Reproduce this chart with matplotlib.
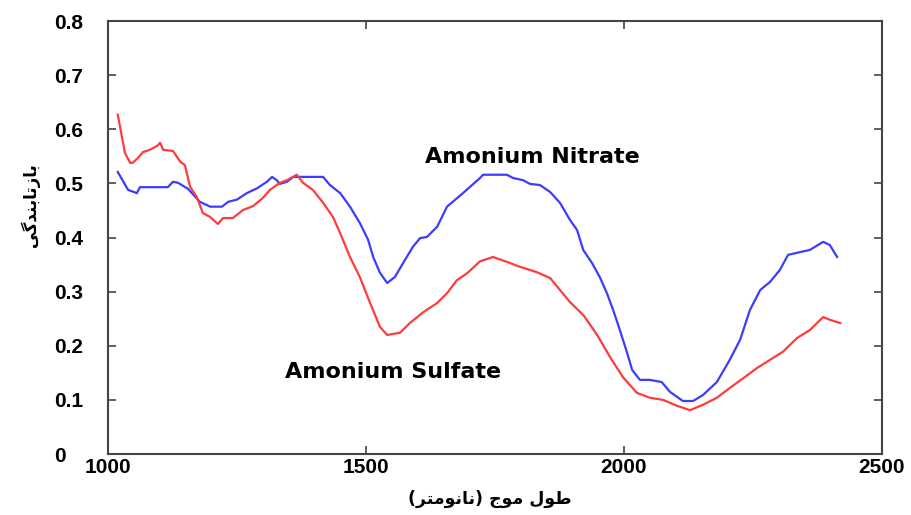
import matplotlib
matplotlib.use("Agg")
import matplotlib.pyplot as plt

# Data (wavelength in nm, reflectance)
nitrate_x = [1019, 1039, 1056, 1062, 1116, 1126, 1136, 1155, 1178, 1198, 1221, 1233, 1250,
             1269, 1289, 1308, 1318, 1327, 1333, 1347, 1359, 1372, 1417, 1430, 1450, 1469,
             1488, 1504, 1514, 1527, 1541, 1556, 1572, 1591, 1605, 1618, 1638, 1657, 1688,
             1721, 1727, 1773, 1785, 1804, 1818, 1837, 1857, 1876, 1895, 1909, 1921, 1938,
             1953, 1967, 1979, 1992, 2006, 2016, 2031, 2050, 2073, 2089, 2114, 2134, 2153,
             2180, 2205, 2225, 2244, 2264, 2283, 2302, 2318, 2341, 2360, 2386, 2399, 2413]
nitrate_y = [0.521, 0.488, 0.482, 0.493, 0.493, 0.503, 0.501, 0.490, 0.466, 0.457, 0.457, 0.466, 0.470,
             0.482, 0.491, 0.503, 0.512, 0.506, 0.499, 0.503, 0.512, 0.512, 0.512, 0.497, 0.482, 0.457,
             0.427, 0.396, 0.364, 0.335, 0.316, 0.327, 0.353, 0.383, 0.399, 0.401, 0.420, 0.457, 0.482,
             0.510, 0.516, 0.516, 0.510, 0.506, 0.499, 0.497, 0.484, 0.464, 0.433, 0.414, 0.377, 0.353,
             0.327, 0.297, 0.266, 0.229, 0.187, 0.155, 0.137, 0.137, 0.133, 0.115, 0.098, 0.098, 0.109,
             0.133, 0.174, 0.211, 0.266, 0.303, 0.318, 0.340, 0.368, 0.373, 0.377, 0.392, 0.386, 0.364]

sulfate_x = [1019, 1027, 1033, 1043, 1048, 1058, 1068, 1081, 1095, 1101, 1107, 1126, 1140,
             1149, 1159, 1172, 1184, 1198, 1213, 1223, 1242, 1262, 1281, 1300, 1314, 1333,
             1347, 1366, 1378, 1397, 1417, 1436, 1450, 1469, 1488, 1508, 1527, 1541, 1566,
             1585, 1611, 1638, 1657, 1676, 1696, 1721, 1746, 1773, 1798, 1831, 1857, 1876,
             1895, 1921, 1948, 1973, 1998, 2025, 2050, 2076, 2103, 2128, 2153, 2180, 2205,
             2231, 2258, 2283, 2308, 2335, 2360, 2386, 2399, 2419]
sulfate_y = [0.627, 0.586, 0.556, 0.538, 0.538, 0.547, 0.558, 0.562, 0.569, 0.575, 0.562, 0.560, 0.540,
             0.534, 0.494, 0.475, 0.445, 0.438, 0.425, 0.436, 0.436, 0.451, 0.458, 0.473, 0.488, 0.501,
             0.506, 0.516, 0.501, 0.488, 0.464, 0.438, 0.408, 0.364, 0.327, 0.279, 0.235, 0.220, 0.224,
             0.242, 0.262, 0.279, 0.297, 0.321, 0.334, 0.356, 0.364, 0.355, 0.346, 0.336, 0.325, 0.303,
             0.281, 0.257, 0.220, 0.179, 0.142, 0.113, 0.104, 0.100, 0.089, 0.081, 0.091, 0.104, 0.122,
             0.140, 0.159, 0.174, 0.189, 0.214, 0.229, 0.253, 0.248, 0.242]

x_ticks = [1000, 1500, 2000, 2500]
y_ticks = [0, 0.1, 0.2, 0.3, 0.4, 0.5, 0.6, 0.7, 0.8]
y_ticklabels = ['0', '0.1', '0.2', '0.3', '0.4', '0.5', '0.6', '0.7', '0.8']

# Persian labels written with Arabic presentation forms in visual (left-to-right) order,
# since matplotlib does no shaping / bidi
ylabel_fa = '\uFBFD\uFB94\uFEAA\uFEE8\uFE91\uFE8E\uFE97\uFEAF\uFE8E\uFE91'   # بازتابندگی
xlabel_fa = ('(\uFEAE\uFE98\uFEE3\uFEEE\uFEE7\uFE8E\uFEE7) '
             '\uFE9D\uFEEE\uFEE3 \uFEDD\uFEEE\uFEC3')                        # طول موج (نانومتر)

fig = plt.figure(figsize=(9.12, 5.15), dpi=100)
ax = fig.add_axes([0.1184, 0.1184, 0.8487, 0.8408])

ax.plot(nitrate_x, nitrate_y, color='#3c3cff', lw=1.6)
ax.plot(sulfate_x, sulfate_y, color='#ff3c3c', lw=1.6)

ax.text(1822, 0.549, 'Amonium Nitrate', fontsize=16, fontweight='bold',
        family='DejaVu Sans', ha='center', va='center')
ax.text(1552, 0.152, 'Amonium Sulfate', fontsize=16, fontweight='bold',
        family='DejaVu Sans', ha='center', va='center')

ax.set_xlim(1000, 2500)
ax.set_ylim(0, 0.8)
ax.set_xticks(x_ticks)
ax.set_yticks(y_ticks)
ax.set_yticklabels(y_ticklabels)

for sp in ax.spines.values():
    sp.set_color('#444444')
    sp.set_linewidth(1.5)

ax.tick_params(direction='in', length=6, width=1.2, color='#444444',
               top=True, right=True, labelsize=15)
ax.tick_params(axis='x', pad=3)
ax.tick_params(axis='y', pad=39)
for lab in ax.get_yticklabels() + ax.get_xticklabels():
    lab.set_fontfamily('Liberation Sans')
    lab.set_fontweight('bold')
for lab in ax.get_yticklabels():
    lab.set_horizontalalignment('left')

fig.text(30 / 912, 1 - 205 / 515, ylabel_fa, rotation=90, fontsize=12,
         fontweight='bold', family='DejaVu Sans', ha='center', va='center')
fig.text(490 / 912, 1 - 499 / 515, xlabel_fa, fontsize=12.5,
         fontweight='bold', family='DejaVu Sans', ha='center', va='center')

fig.savefig('out.png', dpi=100)
